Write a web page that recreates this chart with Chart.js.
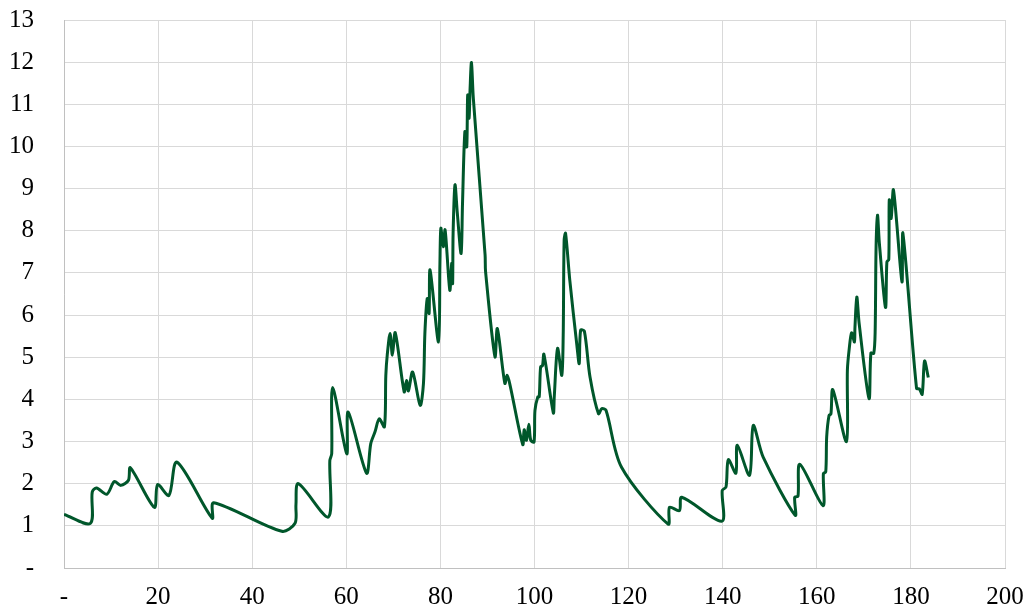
<!DOCTYPE html>
<html>
<head>
<meta charset="utf-8">
<script src="https://cdn.jsdelivr.net/npm/chart.js@4/dist/chart.umd.min.js"></script>
<style>
  html, body { margin: 0; padding: 0; background: #fff; }
  #wrap { width: 1027px; height: 613px; }
</style>
</head>
<body>
<div id="wrap"><canvas id="chart"></canvas></div>
<script>
// series (x, y pairs in order)
const xValues = [
  0, 5.6, 6.0, 6.9, 9.1, 10.7, 12.1, 13.7, 14.1, 19.2, 19.9, 22.3, 24.0, 31.5, 31.8,
  46.3, 49.1, 49.3, 49.8, 56.2, 56.5, 56.9, 57.1, 60.1, 60.4, 64.3, 65.2, 66.1, 67.0,
  68.1, 68.4, 68.7, 69.3, 69.8, 70.4, 72.3, 72.8, 73.2, 74.1, 75.7, 76.4, 76.7, 77.2,
  77.6, 77.8, 79.6, 79.9, 80.1, 80.6, 81.0, 82.0, 82.4, 82.6, 82.7, 83.1, 83.6, 84.4,
  84.7, 85.2, 85.6, 85.8, 86.1, 86.3, 86.6, 87.0, 89.5, 89.6, 91.6, 92.1, 93.7, 94.2,
  94.8, 97.5, 97.8, 98.3, 98.8, 99.2, 99.9, 100.1, 100.7, 101.0, 101.3, 101.7, 102.0,
  104.0, 104.2, 104.9, 105.8, 106.1, 106.3, 106.6, 107.5, 109.0, 109.5, 109.8, 110.6,
  111.8, 113.6, 114.3, 115.2, 118.5, 128.4, 128.7, 130.8, 131.3, 139.8, 139.9, 140.7,
  141.2, 142.8, 143.1, 145.7, 146.5, 148.6, 155.4, 155.3, 156.0, 156.4, 161.3, 161.4,
  161.9, 162.1, 162.6, 163.0, 163.4, 166.3, 166.5, 166.9, 167.4, 168.0, 168.1, 168.5,
  169.0, 171.1, 171.5, 172.1, 172.4, 172.6, 172.9, 173.3, 174.6, 174.9, 175.3, 175.4,
  175.8, 176.3, 178.1, 178.3, 181.2, 181.8, 182.4, 182.9, 183.7
];
const yValues = [
  1.27, 1.06, 1.80, 1.90, 1.75, 2.05, 1.96, 2.08, 2.38, 1.44, 1.98, 1.72, 2.51, 1.18, 1.55,
  0.87, 1.06, 1.50, 2.00, 1.21, 2.55, 2.71, 4.28, 2.71, 3.70, 2.25, 2.95, 3.23, 3.54,
  3.35, 4.57, 5.05, 5.56, 5.05, 5.58, 4.18, 4.45, 4.20, 4.65, 3.86, 4.38, 5.56, 6.39,
  6.04, 7.07, 5.36, 7.23, 8.06, 7.62, 8.02, 6.59, 7.23, 6.75, 7.94, 9.09, 8.41, 7.46,
  8.65, 10.35, 9.99, 11.22, 10.67, 11.34, 11.99, 11.14, 7.42, 7.03, 5.01, 5.68, 4.38, 4.57,
  4.34, 2.93, 3.28, 3.03, 3.41, 3.03, 2.99, 3.74, 4.06, 4.06, 4.77, 4.80, 5.07,
  3.68, 4.06, 5.21, 4.57, 5.52, 7.78, 7.94, 6.83, 5.29, 4.85, 5.64, 5.62,
  4.53, 3.66, 3.78, 3.74, 2.39, 1.04, 1.44, 1.36, 1.68, 1.11, 1.84, 1.92,
  2.57, 2.25, 2.91, 2.20, 3.38, 2.63, 1.25, 1.68, 1.70, 2.46, 1.48, 2.24,
  2.28, 3.11, 3.62, 3.65, 4.23, 3.00, 4.69, 5.21, 5.58, 5.36, 5.68, 6.43,
  5.80, 4.02, 5.10, 5.09, 5.60, 7.62, 8.37, 7.70, 6.18, 7.26, 7.32, 8.73,
  8.29, 8.97, 6.79, 7.94, 4.26, 4.25, 4.12, 4.91, 4.52
];
const xTicks = [0, 20, 40, 60, 80, 100, 120, 140, 160, 180, 200];
const yTicks = [0, 1, 2, 3, 4, 5, 6, 7, 8, 9, 10, 11, 12, 13];

const points = xValues.map((x, i) => ({ x: x, y: yValues[i] }));
const fmt = v => (v === 0 ? '-' : String(v));

Chart.defaults.font.family = "'Liberation Serif', 'Times New Roman', Times, serif";
Chart.defaults.font.size = 25;
Chart.defaults.color = '#000';

new Chart(document.getElementById('chart'), {
  type: 'line',
  data: {
    datasets: [{
      data: points,
      borderColor: '#00572b',
      borderWidth: 3,
      pointRadius: 0,
      tension: 0.3,
      fill: false
    }]
  },
  options: {
    responsive: true,
    maintainAspectRatio: false,
    animation: false,
    layout: { padding: { top: 20, right: 22, bottom: 0, left: 0 } },
    plugins: { legend: { display: false }, tooltip: { enabled: false } },
    scales: {
      x: {
        type: 'linear',
        min: xTicks[0],
        max: xTicks[xTicks.length - 1],
        afterBuildTicks: s => { s.ticks = xTicks.map(v => ({ value: v })); },
        afterFit: s => { s.height = 45; s.paddingLeft = 0; s.paddingRight = 0; },
        ticks: { callback: fmt, padding: 14, maxRotation: 0 },
        grid: { color: '#d9d9d9', lineWidth: 1, drawTicks: false },
        border: { color: '#c0c0c0', width: 1 }
      },
      y: {
        min: yTicks[0],
        max: yTicks[yTicks.length - 1],
        afterBuildTicks: s => { s.ticks = yTicks.map(v => ({ value: v })); },
        afterFit: s => { s.width = 64; s.paddingTop = 0; s.paddingBottom = 0; },
        ticks: { callback: fmt, padding: 30 },
        grid: { color: '#d9d9d9', lineWidth: 1, drawTicks: false },
        border: { color: '#c0c0c0', width: 1 }
      }
    }
  }
});
</script>
</body>
</html>
